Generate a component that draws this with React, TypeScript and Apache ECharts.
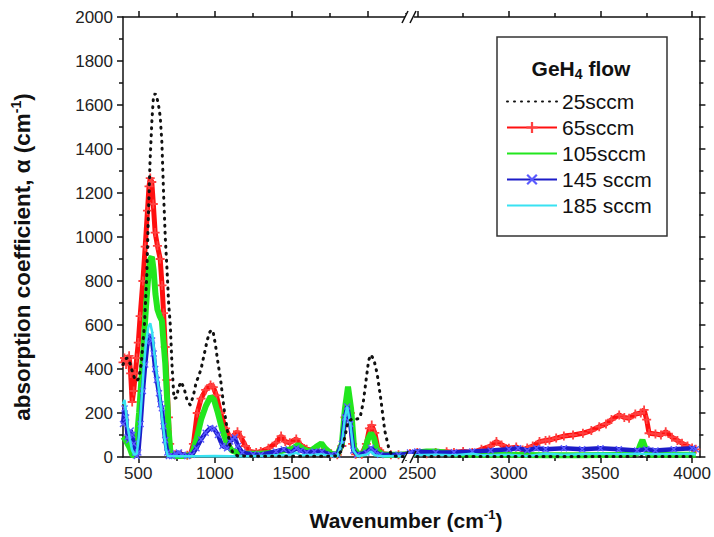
import React, { useEffect, useRef } from 'react';
import * as echarts from 'echarts';

type Pt = [number, number];

const flowNames = ['25sccm', '65sccm', '105sccm', '145 sccm', '185 sccm'];

const leftRange: [number, number] = [400, 2275];
const rightRange: [number, number] = [2460, 4040];
const leftMajorTicks = [500, 1000, 1500, 2000];
const leftMinorTicks = [750, 1250, 1750, 2250];
const rightMajorTicks = [2500, 3000, 3500, 4000];
const rightMinorTicks = [2750, 3250, 3750];
const yRange: [number, number] = [0, 2000];
const yStep = 200;

// 25 sccm
const f25Left: Pt[] = [
  [400, 420], [412, 440], [424, 450], [436, 445], [448, 420], [460, 390], [475, 360], [490, 345], [505, 360],
  [520, 430], [540, 600], [555, 820], [566, 1100], [577, 1350], [589, 1530], [599, 1638], [610, 1652], [621, 1635],
  [632, 1600], [643, 1547], [654, 1430], [665, 1200], [676, 1000], [687, 860], [698, 700], [709, 600], [720, 420],
  [733, 265], [748, 270], [765, 320], [780, 342], [800, 310], [820, 255], [840, 236], [860, 280], [878, 340],
  [893, 365], [910, 400], [930, 465], [950, 530], [965, 565], [977, 578], [990, 565], [1005, 505], [1020, 430],
  [1038, 350], [1060, 220], [1082, 120], [1100, 50], [1120, 15], [1150, 5], [1300, 3], [1500, 3], [1700, 3],
  [1800, 5], [1830, 30], [1855, 110], [1870, 160], [1900, 175], [1925, 172], [1948, 176], [1970, 250], [1990, 360],
  [2005, 440], [2020, 465], [2040, 440], [2060, 380], [2085, 259], [2110, 120], [2139, 32], [2160, 5], [2200, 2],
  [2275, 2],
];
const f25Right: Pt[] = [[2460, 2], [3000, 2], [3500, 2], [4020, 2]];

// 65 sccm
const f65Left: Pt[] = [
  [400, 430], [410, 450], [420, 420], [430, 445], [440, 460], [450, 380], [460, 250], [470, 300], [480, 380],
  [490, 450], [500, 520], [512, 640], [530, 800], [545, 956], [560, 1120], [570, 1230], [578, 1268], [588, 1250],
  [598, 1150], [610, 1020], [625, 960], [643, 900], [655, 780], [665, 654], [676, 500], [687, 350], [697, 180],
  [705, 60], [715, 15], [740, 10], [780, 12], [820, 8], [841, 12], [860, 60], [885, 200], [910, 265], [940, 305],
  [972, 327], [990, 318], [1010, 280], [1038, 200], [1070, 130], [1104, 80], [1125, 100], [1148, 115], [1170, 90],
  [1200, 50], [1230, 25], [1270, 20], [1300, 25], [1350, 40], [1400, 65], [1433, 95], [1460, 70], [1490, 65],
  [1532, 82], [1560, 55], [1600, 35], [1650, 30], [1700, 25], [1760, 15], [1800, 10], [1830, 50], [1850, 180],
  [1870, 250], [1885, 200], [1900, 60], [1920, 12], [1960, 12], [1990, 60], [2010, 130], [2025, 145], [2045, 110],
  [2065, 40], [2100, 15], [2150, 10], [2200, 10], [2275, 15],
];
const f65Right: Pt[] = [
  [2460, 15], [2500, 20], [2550, 15], [2600, 20], [2660, 24], [2700, 20], [2750, 25], [2800, 20], [2850, 35],
  [2900, 50], [2932, 70], [2960, 55], [3000, 40], [3040, 45], [3075, 32], [3100, 41], [3130, 50], [3167, 70],
  [3200, 75], [3221, 77], [3258, 86], [3300, 95], [3350, 100], [3404, 108], [3450, 120], [3493, 138], [3530, 150],
  [3560, 170], [3602, 191], [3630, 180], [3656, 176], [3690, 195], [3720, 200], [3738, 214], [3752, 170],
  [3765, 108], [3800, 105], [3830, 100], [3856, 115], [3890, 90], [3920, 75], [3945, 63], [3975, 50], [4000, 41],
  [4020, 35],
];

// 105 sccm
const f105Left: Pt[] = [
  [400, 92], [415, 80], [430, 60], [445, 40], [460, 10], [475, 5], [490, 80], [505, 200], [520, 350], [534, 500],
  [550, 680], [565, 820], [578, 900], [589, 910], [600, 850], [612, 740], [625, 670], [640, 640], [654, 620],
  [665, 520], [676, 427], [687, 280], [698, 123], [710, 20], [730, 5], [800, 5], [850, 10], [880, 80], [910, 170],
  [940, 230], [972, 274], [995, 260], [1020, 200], [1050, 120], [1080, 60], [1110, 30], [1150, 20], [1200, 15],
  [1300, 15], [1400, 20], [1450, 30], [1500, 35], [1543, 55], [1580, 35], [1620, 25], [1660, 45], [1696, 62],
  [1720, 40], [1760, 15], [1800, 10], [1830, 60], [1850, 220], [1870, 320], [1890, 220], [1910, 40], [1940, 10],
  [1975, 20], [2000, 80], [2020, 109], [2040, 85], [2060, 30], [2100, 10], [2200, 10], [2275, 12],
];
const f105Right: Pt[] = [
  [2460, 10], [2500, 20], [2550, 25], [2600, 25], [2650, 20], [2700, 12], [2800, 10], [3000, 10], [3200, 8],
  [3400, 8], [3600, 10], [3700, 15], [3715, 50], [3729, 77], [3745, 40], [3760, 10], [3900, 10], [4020, 10],
];

// 145 sccm
const f145Left: Pt[] = [
  [400, 150], [410, 220], [420, 180], [430, 90], [440, 77], [450, 120], [460, 100], [470, 60], [480, 20],
  [490, 5], [500, 20], [515, 150], [530, 300], [545, 420], [560, 520], [578, 555], [590, 530], [600, 470],
  [610, 400], [621, 350], [635, 290], [645, 240], [654, 222], [665, 140], [676, 77], [690, 20], [700, 5],
  [720, 5], [745, 15], [765, 20], [790, 10], [820, 5], [850, 10], [880, 40], [910, 80], [940, 110], [970, 132],
  [995, 128], [1020, 100], [1050, 50], [1080, 40], [1100, 70], [1115, 80], [1130, 90], [1150, 50], [1180, 20],
  [1250, 12], [1300, 10], [1400, 25], [1450, 35], [1500, 20], [1532, 40], [1560, 30], [1600, 20], [1650, 25],
  [1700, 25], [1760, 10], [1800, 10], [1830, 60], [1850, 180], [1865, 230], [1885, 150], [1905, 30], [1930, 10],
  [1990, 20], [2020, 41], [2045, 25], [2080, 10], [2200, 10], [2275, 15],
];
const f145Right: Pt[] = [
  [2460, 20], [2500, 25], [2600, 20], [2700, 22], [2800, 25], [2900, 30], [3000, 35], [3050, 40], [3100, 30],
  [3150, 40], [3200, 35], [3300, 40], [3400, 35], [3500, 40], [3600, 35], [3700, 30], [3750, 35], [3800, 30],
  [3900, 35], [4000, 40], [4020, 35],
];

// 185 sccm
const f185Left: Pt[] = [
  [400, 240], [410, 260], [420, 200], [430, 140], [445, 80], [460, 30], [475, 10], [490, 15], [505, 100],
  [520, 250], [535, 400], [550, 520], [565, 590], [578, 608], [590, 570], [605, 470], [620, 380], [643, 259],
  [655, 180], [665, 123], [680, 40], [692, 5], [800, 3], [900, 3], [1000, 5], [1100, 3], [1200, 3], [1300, 5],
  [1400, 8], [1500, 10], [1530, 20], [1560, 8], [1650, 10], [1700, 12], [1760, 5], [1800, 5], [1830, 60],
  [1850, 180], [1865, 229], [1885, 150], [1905, 30], [1930, 5], [1990, 10], [2020, 25], [2045, 8], [2100, 3],
  [2275, 5],
];
const f185Right: Pt[] = [
  [2460, 8], [2600, 10], [2700, 8], [2800, 15], [2850, 8], [3000, 10], [3100, 5], [3200, 15], [3300, 10],
  [3500, 15], [3600, 12], [3700, 15], [3800, 12], [4000, 15], [4020, 10],
];

const FONT = "'Liberation Sans', Arial, Helvetica, sans-serif";
const PLUS = 'path://M4,0H6V4H10V6H6V10H4V6H0V4H4Z';
const CROSS = 'path://M0,1.4L1.4,0L5,3.6L8.6,0L10,1.4L6.4,5L10,8.6L8.6,10L5,6.4L1.4,10L0,8.6L3.6,5Z';
const CLEAR = 'rgba(0,0,0,0)';

const styles: Record<string, any> = {
  '25sccm': { symbol: 'none', lineStyle: { color: '#111', width: 3, type: [1, 6], cap: 'round' }, itemStyle: { color: CLEAR }, z: 7 },
  '65sccm': { symbol: PLUS, symbolSize: 9, showAllSymbol: true, lineStyle: { color: '#ff1010', width: 5 }, itemStyle: { color: '#ff4040' }, z: 3 },
  '105sccm': { symbol: 'none', lineStyle: { color: '#22e61e', width: 6 }, itemStyle: { color: CLEAR }, z: 4 },
  '145 sccm': { symbol: CROSS, symbolSize: 7, showAllSymbol: true, lineStyle: { color: '#1c1cc8', width: 4.5 }, itemStyle: { color: '#5a5aff' }, z: 5 },
  '185 sccm': { symbol: 'none', lineStyle: { color: '#38e2f2', width: 2.5 }, itemStyle: { color: CLEAR }, z: 6 },
};

const seriesData: [string, Pt[], Pt[]][] = [
  ['65sccm', f65Left, f65Right],
  ['105sccm', f105Left, f105Right],
  ['145 sccm', f145Left, f145Right],
  ['185 sccm', f185Left, f185Right],
  ['25sccm', f25Left, f25Right],
];

const AXIS_COLOR = '#111';

function xAxes(gridIndex: number, range: [number, number], major: number[], minor: number[]) {
  const base = { type: 'value', gridIndex, min: range[0], max: range[1], splitLine: { show: false } };
  return [
    {
      ...base, position: 'bottom',
      axisLine: { show: true, onZero: false, lineStyle: { color: AXIS_COLOR, width: 1.5 } },
      axisTick: { show: true, length: 6, customValues: major, lineStyle: { color: AXIS_COLOR, width: 1.5 } },
      axisLabel: { show: true, customValues: major, margin: 8, fontSize: 17, color: '#222', fontFamily: FONT, formatter: (v: number) => String(v) },
    },
    {
      ...base, position: 'bottom',
      axisLine: { show: false, onZero: false },
      axisTick: { show: true, length: 4, customValues: minor, lineStyle: { color: AXIS_COLOR, width: 1.5 } },
      axisLabel: { show: false },
    },
    {
      ...base, position: 'top',
      axisLine: { show: true, onZero: false, lineStyle: { color: AXIS_COLOR, width: 1.5 } },
      axisTick: { show: true, length: 6, customValues: major, lineStyle: { color: AXIS_COLOR, width: 1.5 } },
      axisLabel: { show: false },
    },
    {
      ...base, position: 'top',
      axisLine: { show: false, onZero: false },
      axisTick: { show: true, length: 4, customValues: minor, lineStyle: { color: AXIS_COLOR, width: 1.5 } },
      axisLabel: { show: false },
    },
  ];
}

function breakMark(yc: number) {
  return [
    { type: 'rect', z: 100, shape: { x: 405, y: yc - 3, width: 9, height: 6 }, style: { fill: '#fff' } },
    { type: 'line', z: 101, shape: { x1: 402, y1: yc + 6, x2: 408, y2: yc - 6 }, style: { stroke: '#111', lineWidth: 1.5 } },
    { type: 'line', z: 101, shape: { x1: 410, y1: yc + 6, x2: 416, y2: yc - 6 }, style: { stroke: '#111', lineWidth: 1.5 } },
  ];
}

export default function App() {
  const ref = useRef<HTMLDivElement>(null);
  useEffect(() => {
    if (!ref.current) return;
    const chart = echarts.init(ref.current, null, { renderer: 'svg' });
    const series: any[] = [];
    seriesData.forEach(([name, left, right]) => {
      series.push({ type: 'line', name, data: left, xAxisIndex: 0, yAxisIndex: 0, ...styles[name] });
      series.push({ type: 'line', name, data: right, xAxisIndex: 4, yAxisIndex: 1, ...styles[name] });
    });
    const yBase = { type: 'value', min: yRange[0], max: yRange[1], interval: yStep, splitLine: { show: false } };
    chart.setOption({
      animation: false,
      backgroundColor: '#fff',
      textStyle: { fontFamily: FONT },
      grid: [
        { left: 123, top: 17, bottom: 80, width: 287 },
        { left: 410, top: 17, bottom: 80, right: 12 },
      ],
      xAxis: [
        ...xAxes(0, leftRange, leftMajorTicks, leftMinorTicks),
        ...xAxes(1, rightRange, rightMajorTicks, rightMinorTicks),
      ],
      yAxis: [
        {
          ...yBase, gridIndex: 0, position: 'left',
          axisLine: { show: true, onZero: false, lineStyle: { color: AXIS_COLOR, width: 1.5 } },
          axisTick: { show: true, length: 6, lineStyle: { color: AXIS_COLOR, width: 1.5 } },
          minorTick: { show: true, splitNumber: 2, length: 4, lineStyle: { color: AXIS_COLOR, width: 1.5 } },
          axisLabel: { margin: 10, fontSize: 17, color: '#222', fontFamily: FONT, formatter: (v: number) => String(v) },
        },
        {
          ...yBase, gridIndex: 1, position: 'right',
          axisLine: { show: true, onZero: false, lineStyle: { color: AXIS_COLOR, width: 1.5 } },
          axisTick: { show: true, length: 6, lineStyle: { color: AXIS_COLOR, width: 1.5 } },
          minorTick: { show: true, splitNumber: 2, length: 4, lineStyle: { color: AXIS_COLOR, width: 1.5 } },
          axisLabel: { show: false },
        },
      ],
      legend: {
        data: flowNames,
        orient: 'vertical',
        left: 501,
        top: 86,
        itemWidth: 50,
        itemHeight: 14,
        itemGap: 5,
        textStyle: { fontSize: 21, color: '#111', fontFamily: FONT },
      },
      graphic: [
        { type: 'rect', z: 1, shape: { x: 497, y: 37, width: 170, height: 199 }, style: { fill: '#fff', stroke: '#333', lineWidth: 1.5 } },
        {
          type: 'text', z: 5, x: 581, y: 68,
          style: {
            text: '{a|GeH}{s|4}{a| flow}', align: 'center', verticalAlign: 'middle',
            rich: {
              a: { fontSize: 21, fontWeight: 'bold', fill: '#111', fontFamily: FONT },
              s: { fontSize: 14, fontWeight: 'bold', fill: '#111', fontFamily: FONT, padding: [12, 0, 0, 0] },
            },
          },
        },
        {
          type: 'text', z: 5, x: 406, y: 520,
          style: {
            text: '{a|Wavenumber (cm}{s|-1}{a|)}', align: 'center', verticalAlign: 'middle',
            rich: {
              a: { fontSize: 21, fontWeight: 'bold', fill: '#111', fontFamily: FONT },
              s: { fontSize: 13, fontWeight: 'bold', fill: '#111', fontFamily: FONT, padding: [0, 0, 12, 0] },
            },
          },
        },
        {
          type: 'text', z: 5, x: 22, y: 257, rotation: Math.PI / 2,
          style: {
            text: '{a|absorption coefficient, α (cm}{s|-1}{a|)}', align: 'center', verticalAlign: 'middle',
            rich: {
              a: { fontSize: 22.5, fontWeight: 'bold', fill: '#111', fontFamily: FONT },
              s: { fontSize: 14, fontWeight: 'bold', fill: '#111', fontFamily: FONT, padding: [0, 0, 12, 0] },
            },
          },
        },
        ...breakMark(457),
        ...breakMark(17),
      ],
      series,
    });
    return () => chart.dispose();
  }, []);
  return <div ref={ref} style={{ position: 'fixed', left: 0, top: 0, width: 714, height: 537 }} />;
}
